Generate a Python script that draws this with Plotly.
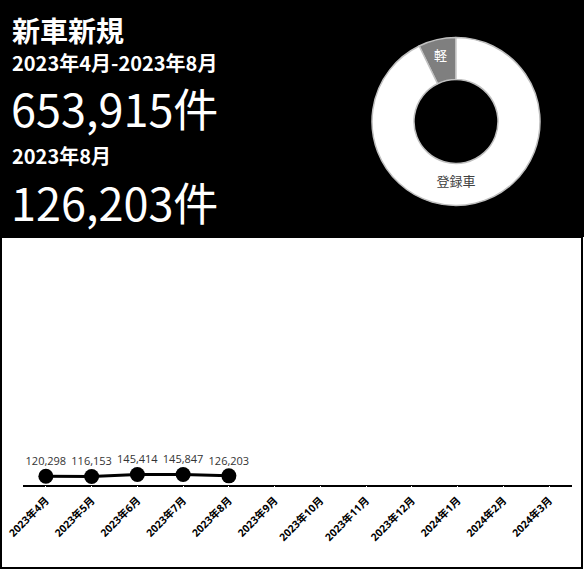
import plotly.graph_objects as go

W, H = 584, 570

months = ["2023年4月", "2023年5月", "2023年6月", "2023年7月", "2023年8月", "2023年9月",
          "2023年10月", "2023年11月", "2023年12月", "2024年1月", "2024年2月", "2024年3月"]
counts = [120298, 116153, 145414, 145847, 126203]
count_labels = ["120,298", "116,153", "145,414", "145,847", "126,203"]

donut_labels = ["軽", "登録車"]
donut_values = [7.2, 92.8]
donut_colors = ["#7f7f7f", "#ffffff"]

title_text = "新車新規"
period_text = "2023年4月-2023年8月"
period_total = "653,915件"
month_text = "2023年8月"
month_total = "126,203件"

def px_x(x):
    return x / W

def px_y(y):
    return 1 - y / H

fig = go.Figure()

fig.add_trace(go.Scatter(
    x=months[:len(counts)], y=counts,
    mode="lines+markers",
    line=dict(color="black", width=3),
    marker=dict(color="black", size=15),
    showlegend=False, hoverinfo="skip",
))
fig.add_trace(go.Scatter(
    x=months[:len(counts)], y=counts,
    mode="markers+text",
    marker=dict(color="black", size=12, opacity=0),
    text=count_labels, textposition="top center",
    textfont=dict(family="Open Sans, Noto Sans CJK JP", size=11, color="#333333"),
    cliponaxis=False, showlegend=False, hoverinfo="skip",
))

cx, cy, r = 456, 121.5, 84
fig.add_trace(go.Pie(
    labels=donut_labels, values=donut_values, hole=0.5, sort=False,
    direction="clockwise", rotation=-26,
    marker=dict(colors=donut_colors, line=dict(color="#c0c0c0", width=1.5)),
    textinfo="label", textposition="inside", insidetextorientation="horizontal",
    insidetextfont=dict(family="Noto Sans CJK JP", size=13, color=["#ffffff", "#404040"]),
    domain=dict(x=[px_x(cx - r), px_x(cx + r)], y=[px_y(cy + r), px_y(cy - r)]),
    showlegend=False, hoverinfo="skip",
))

shapes = [
    dict(type="rect", xref="paper", yref="paper", x0=0, x1=1, y0=px_y(237), y1=1,
         fillcolor="black", line=dict(width=0), layer="below"),
    dict(type="rect", xref="paper", yref="paper", x0=px_x(1), x1=px_x(582), y0=px_y(568), y1=px_y(237),
         fillcolor="rgba(0,0,0,0)", line=dict(color="black", width=2)),
]

jp = "Noto Sans CJK JP"
annotations = [
    dict(text="<b>" + title_text + "</b>", x=px_x(10), y=px_y(30), font=dict(family=jp, size=28, color="white")),
    dict(text="<b>" + period_text + "</b>", x=px_x(10), y=px_y(62), font=dict(family=jp, size=20, color="white")),
    dict(text=period_total, x=px_x(9), y=px_y(107), font=dict(family=jp, size=45, color="white")),
    dict(text="<b>" + month_text + "</b>", x=px_x(10), y=px_y(156), font=dict(family=jp, size=20, color="white")),
    dict(text=month_total, x=px_x(9), y=px_y(201), font=dict(family=jp, size=45, color="white")),
]
for a in annotations:
    a.update(xref="paper", yref="paper", xanchor="left", yanchor="middle", showarrow=False)

fig.update_layout(
    width=W, height=H,
    margin=dict(l=0, r=0, t=0, b=0, autoexpand=False),
    paper_bgcolor="white", plot_bgcolor="white",
    shapes=shapes, annotations=annotations,
    xaxis=dict(
        domain=[px_x(23), px_x(572)], automargin=False,
        type="category", categoryorder="array", categoryarray=months,
        range=[-0.5, len(months) - 0.5],
        tickvals=months, ticktext=["<b>" + m + "</b>" for m in months],
        showline=True, linecolor="black", linewidth=1.5,
        showgrid=False, zeroline=False, tickangle=-45,
        ticks="outside", ticklen=4, tickcolor="white",
        tickfont=dict(family="Open Sans, Noto Sans CJK JP", size=10.5, color="black"),
    ),
    yaxis=dict(
        domain=[px_y(484.5), px_y(245)], automargin=False,
        range=[0, 3500000], visible=False, showgrid=False, zeroline=False,
    ),
)

fig.write_html("out.html", config={"displayModeBar": False},
               post_script="document.body.style.margin='0';document.body.style.padding='0';")
